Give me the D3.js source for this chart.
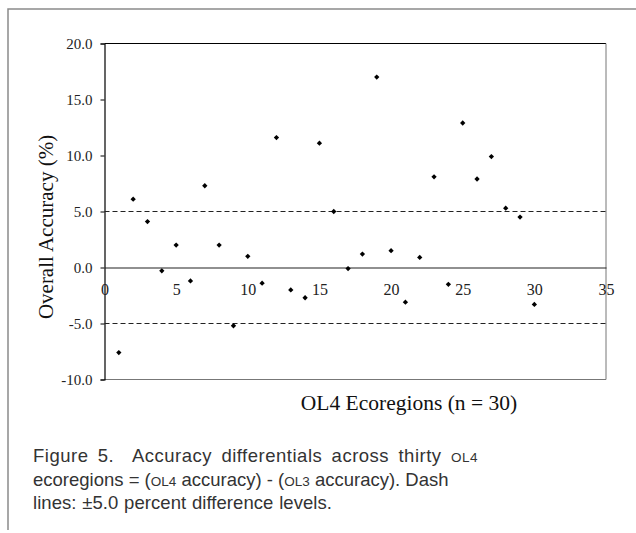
<!DOCTYPE html>
<html>
<head>
<meta charset="utf-8">
<script src="https://cdn.jsdelivr.net/npm/d3@7"></script>
<style>
  body { margin: 0; background: #fff; }
</style>
</head>
<body>
<div class="chart"></div>
<script>
const ecoregions = d3.range(1, 31)
const differentials = [-7.6, 6.1, 4.1, -0.3, 2.0, -1.2, 7.3, 2.0, -5.2, 1.0,
                       -1.4, 11.6, -2.0, -2.7, 11.1, 5.0, -0.1, 1.2, 17.0, 1.5,
                       -3.1, 0.9, 8.1, -1.5, 12.9, 7.9, 9.9, 5.3, 4.5, -3.3]
const xTicks = [0, 5, 10, 15, 20, 25, 30, 35]
const yTicks = [-10, -5, 0, 5, 10, 15, 20]
const dashLevels = [5, -5]

const width = 636
const height = 533
const serif = "Liberation Serif"

const svg = d3.select(".chart").append("svg")
    .attr("width", width)
    .attr("height", height)

// outer page frame
svg.append("path")
    .attr("d", "M8,530 V9 H636")
    .attr("fill", "none")
    .attr("stroke", "#8a8a8a")
    .attr("stroke-width", 1.5)

const xScale = d3.scaleLinear().domain([0, 35]).range([104.5, 606])
const yScale = d3.scaleLinear().domain([-10, 20]).range([379.5, 43.5])

// plot frame: top black, right/bottom gray
svg.append("line")
    .attr("x1", xScale(0)).attr("x2", xScale(35))
    .attr("y1", yScale(20)).attr("y2", yScale(20))
    .attr("stroke", "#000").attr("stroke-width", 1.2)
svg.append("path")
    .attr("d", `M${xScale(35)},${yScale(20)} V${yScale(-10)} H${xScale(0)}`)
    .attr("fill", "none")
    .attr("stroke", "#777").attr("stroke-width", 1)

// y axis
const yAxis = d3.axisLeft(yScale)
    .tickValues(yTicks)
    .tickSize(4)
    .tickPadding(8)
    .tickFormat(d => d3.format(".1f")(d).replace("\u2212", "-"))

const gy = svg.append("g")
    .attr("transform", `translate(${xScale(0)},0)`)
    .call(yAxis)
gy.select(".domain").attr("stroke", "#000").attr("stroke-width", 1.2)
gy.selectAll("text")
    .attr("fill", "#222")
    .style("font", `15px "${serif}", serif`)

// x axis along zero line, labels below, no ticks
const xAxis = d3.axisBottom(xScale)
    .tickValues(xTicks)
    .tickSize(0)
    .tickPadding(16)

const gx = svg.append("g")
    .attr("transform", `translate(0,${yScale(0)})`)
    .call(xAxis)
gx.select(".domain").attr("stroke", "#222").attr("stroke-width", 1.2)
gx.selectAll("text")
    .attr("fill", "#222")
    .style("font", `16px "${serif}", serif`)

// dashed +-5 lines
svg.selectAll(".level")
    .data(dashLevels)
    .enter().append("line")
    .attr("class", "level")
    .attr("x1", xScale(0)).attr("x2", xScale(35) + 2)
    .attr("y1", d => yScale(d)).attr("y2", d => yScale(d))
    .attr("stroke", "#222")
    .attr("stroke-width", 1)
    .attr("stroke-dasharray", "5,3")

// points (small square diamonds)
svg.selectAll(".pt")
    .data(differentials)
    .enter().append("path")
    .attr("class", "pt")
    .attr("d", d3.symbol().type(d3.symbolSquare).size(14))
    .attr("transform", (d, i) => `translate(${xScale(ecoregions[i])},${yScale(d)}) rotate(45)`)
    .attr("fill", "#000")

// axis titles
svg.append("text")
    .attr("transform", `translate(53,227) rotate(-90)`)
    .attr("text-anchor", "middle")
    .style("font", `21px "${serif}", serif`)
    .attr("fill", "#111")
    .text("Overall Accuracy (%)")

svg.append("text")
    .attr("x", 409)
    .attr("y", 410)
    .attr("text-anchor", "middle")
    .style("font", `21.5px "${serif}", serif`)
    .attr("fill", "#111")
    .text("OL4 Ecoregions (n = 30)")

// caption, justified to the measured line widths
const caption = [
    ["Figure 5.  Accuracy differentials across thirty ", ["OL4"]],
    ["ecoregions = (", ["OL4"], " accuracy) - (", ["OL3"], " accuracy). Dash"],
    ["lines: \u00b15.0 percent difference levels."]
]
const captionWidths = [445, 412, 299]
caption.forEach((parts, i) => {
    const t = svg.append("text")
        .attr("x", 33)
        .attr("y", 462 + i * 23.5)
        .attr("xml:space", "preserve")
        .style("font-family", "'Liberation Sans', Arial, sans-serif")
        .style("font-size", "18.5px")
        .attr("fill", "#333")
    parts.forEach(p => {
        if (Array.isArray(p)) {
            t.append("tspan").style("font-size", "13.5px").text(p[0])
        } else {
            t.append("tspan").text(p)
        }
    })
    const str = parts.map(p => Array.isArray(p) ? p[0] : p).join("")
    const spaces = str.split(" ").length - 1
    let extra = captionWidths[i] - t.node().getComputedTextLength()
    if (extra > 0) {
        t.style("letter-spacing", `${extra * 0.5 / str.length}px`)
        extra = captionWidths[i] - t.node().getComputedTextLength()
        if (extra > 0) t.style("word-spacing", `${extra / Math.max(spaces, 1)}px`)
    }
})
</script>
</body>
</html>
